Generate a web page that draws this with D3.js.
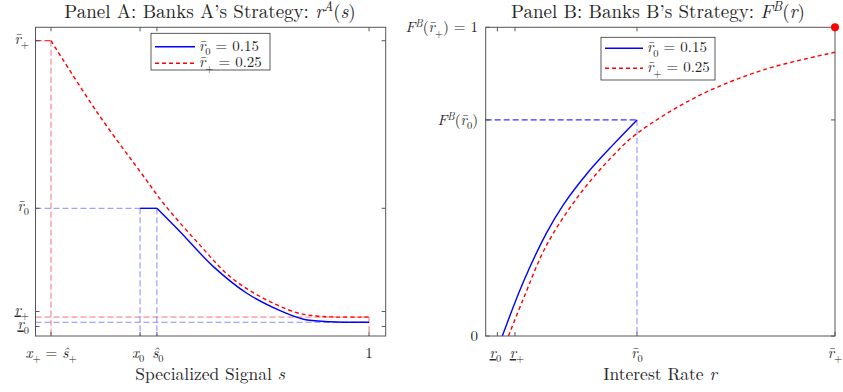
<!DOCTYPE html>
<html>
<head>
<meta charset="utf-8">
<script src="https://cdn.jsdelivr.net/npm/d3@7"></script>
<style>
  body { margin: 0; background: #fff; }
</style>
</head>
<body>
<svg id="chart" width="843" height="392"></svg>
<script>
// key values
var rBar0 = 0.15, rBarPlus = 0.25;
var rLow0 = 0.0795, rLowPlus = 0.0884;     // tick values of r_0, r_+
var rMin0 = 0.0820, rMinPlus = 0.0851;     // floors of the two curves
var xPlus = 0.0465, x0 = 0.3135, sHat0 = 0.364;
var FB0 = 0.70;

// Panel A: r^A(s)
var sRedA = [0.0465, 0.1836, 0.3285, 0.3834, 0.4836, 0.5836, 0.6835, 0.7837, 0.8437, 0.90, 1];
var rRedA = [0.25, 0.2076, 0.1679, 0.1530, 0.1301, 0.1092, 0.0963, 0.0877, 0.0857, 0.0851, 0.0851];
var sBlueA = [0.364, 0.4335, 0.5334, 0.6337, 0.7335, 0.8035, 0.8836, 0.93, 1];
var rBlueA = [0.15, 0.1360, 0.1152, 0.0993, 0.0889, 0.0838, 0.0823, 0.0820, 0.0820];

// Panel B: F^B(r)
var rBlueB = [0.082, 0.0926, 0.1044, 0.1128, 0.1246, 0.1380, 0.15];
var FBlueB = [0, 0.175, 0.335, 0.425, 0.525, 0.620, 0.70];
var rRedB = [0.0851, 0.0926, 0.1044, 0.1212, 0.1380, 0.15, 0.1802, 0.2138, 0.25];
var FRedB = [0, 0.120, 0.295, 0.460, 0.585, 0.656, 0.775, 0.862, 0.919];

// label pieces: n normal, i italic, low underlined italic, sub, sup
var RBAR = "r\u0304";
var legendLabels = [
  [[RBAR, "i"], ["0", "sub"], [" = 0.15", "n"]],
  [[RBAR, "i"], ["+", "sub"], [" = 0.25", "n"]]
];

var FONT = "Latin Modern Roman";
var blue = "#0000ff", red = "#ff0000";
var refBlue = "rgba(60,60,255,0.6)", refRed = "rgba(235,40,40,0.65)";
var axisCol = "#555";

var svg = d3.select("#chart");

// writes a label made of normal / italic / sub / sup pieces
function mathText(g, x, y, parts, anchor, size) {
  var base = size || 15;
  var t = g.append("text").attr("x", x).attr("y", y)
    .attr("text-anchor", anchor || "middle")
    .attr("font-family", FONT)
    .attr("fill", "#262626")
    .attr("font-size", base);
  var shift = 0;
  parts.forEach(function(p) {
    var want = p[1] == "sub" ? 0.28 : (p[1] == "sup" ? -0.36 : 0);
    var fs = (p[1] == "sub" || p[1] == "sup") ? 0.7 : 1;
    var span = t.append("tspan")
      .attr("dy", ((want - shift) * base).toFixed(2))
      .attr("font-size", (fs * base).toFixed(1))
      .text(p[0]);
    if (p[1] == "i" || p[1] == "low" || p[1] == "sup") span.attr("font-style", "italic");
    if (p[1] == "low") span.attr("text-decoration", "underline");
    shift = want;
  });
  return t;
}

function zip(xs, ys) { return xs.map(function(v, i) { return [v, ys[i]]; }); }

function frame(g, x, y) {
  var r = x.range(), d = y.range();
  g.append("rect")
    .attr("x", r[0]).attr("y", d[1])
    .attr("width", r[1] - r[0]).attr("height", d[0] - d[1])
    .attr("fill", "none").attr("stroke", axisCol).attr("stroke-width", 1);
}

function ticks(g, x, y, xv, yv) {
  var r = x.range(), d = y.range(), L = 4;
  xv.forEach(function(v) {
    g.append("line").attr("x1", x(v)).attr("x2", x(v)).attr("y1", d[0]).attr("y2", d[0] - L).attr("stroke", axisCol);
    g.append("line").attr("x1", x(v)).attr("x2", x(v)).attr("y1", d[1]).attr("y2", d[1] + L).attr("stroke", axisCol);
  });
  yv.forEach(function(v) {
    g.append("line").attr("y1", y(v)).attr("y2", y(v)).attr("x1", r[0]).attr("x2", r[0] + L).attr("stroke", axisCol);
    g.append("line").attr("y1", y(v)).attr("y2", y(v)).attr("x1", r[1]).attr("x2", r[1] - L).attr("stroke", axisCol);
  });
}

function refLine(g, pts, col) {
  g.append("path").attr("d", d3.line()(pts))
    .attr("fill", "none").attr("stroke", col).attr("stroke-width", 1)
    .attr("stroke-dasharray", "6,3");
}

function legend(g, bx, by, bw, bh, lx0, lx1, ly) {
  g.append("rect").attr("x", bx).attr("y", by).attr("width", bw).attr("height", bh)
    .attr("fill", "#fff").attr("stroke", "#333").attr("stroke-width", 0.8);
  g.append("line").attr("x1", lx0).attr("x2", lx1).attr("y1", ly[0]).attr("y2", ly[0])
    .attr("stroke", blue).attr("stroke-width", 1.4);
  g.append("line").attr("x1", lx0).attr("x2", lx1).attr("y1", ly[1]).attr("y2", ly[1])
    .attr("stroke", red).attr("stroke-width", 1.4).attr("stroke-dasharray", "4,3");
  legendLabels.forEach(function(lab, i) {
    mathText(g, lx1 + 4, ly[i] + 4, lab, "start", 15);
  });
}

var smooth = d3.curveCatmullRom.alpha(0.5);

// ---------------- Panel A ----------------
var xA = d3.scaleLinear().domain([0, 1.05]).range([35.5, 385.7]);
var yA = d3.scaleLinear().domain([0.0738, 0.258]).range([336, 27.3]);
var gA = svg.append("g");
var yBotA = yA.domain()[0];

refLine(gA, [[xA.range()[0], yA(rBarPlus)], [xA(xPlus), yA(rBarPlus)]], red);
refLine(gA, [[xA(xPlus), yA(rBarPlus)], [xA(xPlus), yA(yBotA)]], refRed);
refLine(gA, [[xA.range()[0], yA(rMinPlus)], [xA(1), yA(rMinPlus)]], refRed);
refLine(gA, [[xA(1), yA(rMinPlus)], [xA(1), yA(yBotA)]], refRed);
refLine(gA, [[xA.range()[0], yA(rBar0)], [xA(x0), yA(rBar0)]], refBlue);
refLine(gA, [[xA(x0), yA(rBar0)], [xA(x0), yA(yBotA)]], refBlue);
refLine(gA, [[xA(sHat0), yA(rBar0)], [xA(sHat0), yA(yBotA)]], refBlue);
refLine(gA, [[xA.range()[0], yA(rMin0)], [xA(1), yA(rMin0)]], refBlue);

var lineA = d3.line().x(function(d) { return xA(d[0]); }).y(function(d) { return yA(d[1]); });
gA.append("path").attr("d", lineA([[x0, rBar0], [sHat0, rBar0]]))
  .attr("fill", "none").attr("stroke", blue).attr("stroke-width", 1.4);
gA.append("path").attr("d", lineA.curve(smooth)(zip(sBlueA, rBlueA)))
  .attr("fill", "none").attr("stroke", blue).attr("stroke-width", 1.4);
gA.append("path").attr("d", lineA.curve(smooth)(zip(sRedA, rRedA)))
  .attr("fill", "none").attr("stroke", red).attr("stroke-width", 1.4)
  .attr("stroke-dasharray", "4,3");

frame(gA, xA, yA);
ticks(gA, xA, yA, [xPlus, x0, sHat0, 1], [rLow0, rLowPlus, rBar0, rBarPlus]);

var xLabA = [
  [xPlus, [["x", "i"], ["+", "sub"], [" = ", "n"], ["\u015D", "i"], ["+", "sub"]]],
  [x0 - 0.006, [["x", "i"], ["0", "sub"]]],
  [sHat0 + 0.003, [["\u015D", "i"], ["0", "sub"]]],
  [1, [["1", "n"]]]
];
xLabA.forEach(function(l) { mathText(gA, xA(l[0]), 358, l[1], "middle", 15); });

var yLabA = [
  [rBarPlus, [[RBAR, "i"], ["+", "sub"]]],
  [rBar0, [[RBAR, "i"], ["0", "sub"]]],
  [rLowPlus, [["r", "low"], ["+", "sub"]]],
  [rLow0, [["r", "low"], ["0", "sub"]]]
];
yLabA.forEach(function(l) { mathText(gA, 29, yA(l[0]) + 3, l[1], "end", 15); });

mathText(gA, 210, 18, [["Panel A: Banks A\u2019s Strategy: ", "n"], ["r", "i"], ["A", "sup"], ["(", "n"], ["s", "i"], [")", "n"]], "middle", 19);
mathText(gA, 210, 380, [["Specialized Signal ", "n"], ["s", "i"]], "middle", 17.5);

legend(gA, 151, 33.3, 119, 36.7, 155, 195, [46.7, 63.3]);

// ---------------- Panel B ----------------
var xB = d3.scaleLinear().domain([0.0736, 0.25]).range([485.7, 835]);
var yB = d3.scaleLinear().domain([0, 1]).range([336, 27.3]);
var gB = svg.append("g");

refLine(gB, [[xB.range()[0], yB(FB0)], [xB(rBar0), yB(FB0)]], blue);
refLine(gB, [[xB(rBar0), yB(FB0)], [xB(rBar0), yB(0)]], refBlue);

var lineB = d3.line().x(function(d) { return xB(d[0]); }).y(function(d) { return yB(d[1]); })
  .curve(smooth);
gB.append("path").attr("d", lineB(zip(rBlueB, FBlueB)))
  .attr("fill", "none").attr("stroke", blue).attr("stroke-width", 1.4);
gB.append("path").attr("d", lineB(zip(rRedB, FRedB)))
  .attr("fill", "none").attr("stroke", red).attr("stroke-width", 1.4)
  .attr("stroke-dasharray", "4,3");

frame(gB, xB, yB);
ticks(gB, xB, yB, [rLow0, rLowPlus, rBar0, rBarPlus], [0, FB0, 1]);

gB.append("circle").attr("cx", xB(rBarPlus)).attr("cy", yB(1)).attr("r", 4).attr("fill", red);

var xLabB = [
  [rLow0 - 0.001, [["r", "low"], ["0", "sub"]]],
  [rLowPlus + 0.001, [["r", "low"], ["+", "sub"]]],
  [rBar0, [[RBAR, "i"], ["0", "sub"]]],
  [rBarPlus, [[RBAR, "i"], ["+", "sub"]]]
];
xLabB.forEach(function(l) { mathText(gB, xB(l[0]), 358, l[1], "middle", 15); });

var yLabB = [
  [1, [["F", "i"], ["B", "sup"], ["(", "n"], [RBAR, "i"], ["+", "sub"], [") = 1", "n"]]],
  [FB0, [["F", "i"], ["B", "sup"], ["(", "n"], [RBAR, "i"], ["0", "sub"], [")", "n"]]],
  [0, [["0", "n"]]]
];
yLabB.forEach(function(l) { mathText(gB, 478, yB(l[0]) + 5, l[1], "end", 15); });

mathText(gB, 658, 18, [["Panel B: Banks B\u2019s Strategy: ", "n"], ["F", "i"], ["B", "sup"], ["(", "n"], ["r", "i"], [")", "n"]], "middle", 19);
mathText(gB, 660, 380, [["Interest Rate ", "n"], ["r", "i"]], "middle", 17.5);

legend(gB, 601, 37.3, 114, 42.7, 605, 643, [48.3, 68.3]);
</script>
</body>
</html>
